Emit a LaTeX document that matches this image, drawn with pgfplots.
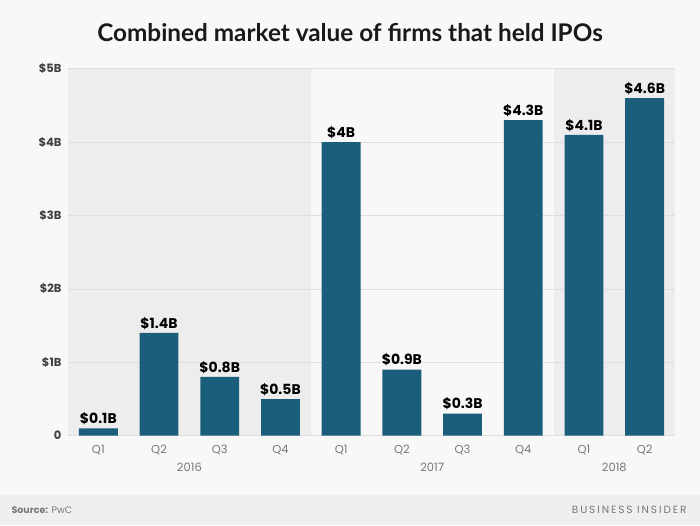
\documentclass[border=0pt]{standalone}
\usepackage{pgfplots}
\pgfplotsset{compat=1.18}
\usepackage{fontspec}
\setmainfont{Poppins}
\newfontfamily\titlefont{Lato}
\definecolor{bg}{HTML}{F8F8F8}
\definecolor{shadec}{HTML}{EDEDED}
\definecolor{foot}{HTML}{EFEFEF}
\definecolor{barc}{HTML}{1B5E7B}
\definecolor{gridc}{HTML}{DEDEDE}
\definecolor{labc}{HTML}{777777}
\begin{document}
\begin{tikzpicture}
\fill[bg] (0,0) rectangle (700pt,525pt);
\fill[foot] (0,0) rectangle (700pt,30pt);
\fill[shadec] (68pt,89.3pt) rectangle (310.8pt,456.3pt);
\fill[shadec] (553.6pt,89.3pt) rectangle (675pt,456.3pt);
\node[font=\titlefont\bfseries\fontsize{24.3}{28}\selectfont, text=black!90] at (350pt,492pt) {Combined market value of firms that held IPOs};
\node[anchor=west, font=\fontsize{9.5}{12}\selectfont, text=labc] at (8pt,15pt) {\textbf{Source:} PwC};
\node[anchor=east, font=\addfontfeatures{LetterSpace=18}\fontsize{10.5}{12}\selectfont, text=labc] at (690pt,15pt) {BUSINESS INSIDER};
\begin{axis}[
  at={(68pt,89.3pt)}, anchor=south west,
  scale only axis, width=607pt, height=367pt,
  xmin=-0.5, xmax=9.5, ymin=0, ymax=5,
  ytick={0,1,2,3,4,5},
  yticklabels={0,\$1B,\$2B,\$3B,\$4B,\$5B},
  xtick={0,...,9},
  xticklabels={Q1,Q2,Q3,Q4,Q1,Q2,Q3,Q4,Q1,Q2},
  axis line style={draw=none},
  major tick style={draw=none},
  ymajorgrids, grid style={gridc, line width=0.8pt},
  clip=false,
  ybar, bar width=0.64,
  yticklabel style={font=\bfseries\fontsize{11.5}{13}\selectfont, text=black!75, xshift=-3pt},
  xticklabel style={font=\fontsize{11.5}{13}\selectfont, text=labc, yshift=-2pt},
  nodes near coords={\$\pgfmathprintnumber{\pgfplotspointmeta}B},
  nodes near coords style={font=\bfseries\fontsize{14}{16}\selectfont, text=black},
  /pgf/number format/assume math mode=true,
]
\addplot[fill=barc, draw=none] coordinates {
(0,0.1) (1,1.4) (2,0.8) (3,0.5) (4,4) (5,0.9) (6,0.3) (7,4.3) (8,4.1) (9,4.6)};
\node[font=\fontsize{11.5}{13}\selectfont, text=labc] at (axis cs:1.5,0) [yshift=-32pt] {2016};
\node[font=\fontsize{11.5}{13}\selectfont, text=labc] at (axis cs:5.5,0) [yshift=-32pt] {2017};
\node[font=\fontsize{11.5}{13}\selectfont, text=labc] at (axis cs:8.5,0) [yshift=-32pt] {2018};
\end{axis}
\end{tikzpicture}
\end{document}
